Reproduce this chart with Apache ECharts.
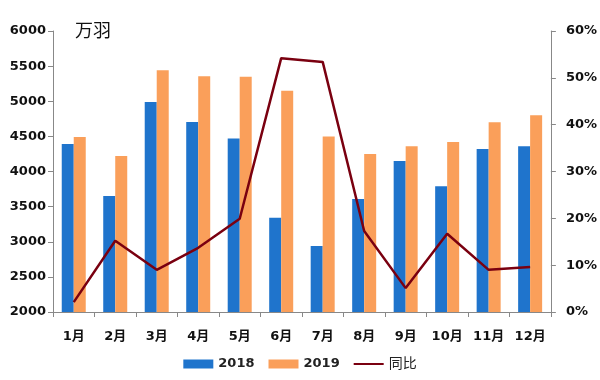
<!DOCTYPE html>
<html><head><meta charset="utf-8">
<script src="https://cdn.jsdelivr.net/npm/echarts@6/dist/echarts.min.js"></script>
<style>html,body{margin:0;padding:0;background:#fff}#c{width:600px;height:380px}</style>
</head><body><div id="c"></div>
<script>
const categories = ['1月','2月','3月','4月','5月','6月','7月','8月','9月','10月','11月','12月'];
const s2018 = [4390, 3650, 4990, 4705, 4470, 3340, 2940, 3610, 4150, 3790, 4320, 4360];
const s2019 = [4490, 4220, 5440, 5355, 5350, 5150, 4500, 4250, 4360, 4420, 4700, 4800];
const yoy = [2.1, 15.2, 9.0, 13.7, 19.9, 54.2, 53.4, 17.3, 5.1, 16.7, 9.0, 9.6];
const leftTicks = [2000, 6000, 500];
const rightTicks = [0, 60, 10];
const unitLabel = '万羽';

const font = "'DejaVu Sans','Noto Sans CJK SC',sans-serif";
const chart = echarts.init(document.getElementById('c'), null, {renderer:'canvas'});
const axisLine = {show:true, lineStyle:{color:'#888', width:1}};
const lbl = {color:'#111', fontSize:13, fontWeight:'bold', fontFamily:font};
chart.setOption({
  animation:false,
  backgroundColor:'#fff',
  textStyle:{fontFamily:font},
  graphic:[{type:'text', left:75, top:21, style:{text:unitLabel, font:"18px 'Noto Sans CJK SC'", fill:'#111'}}],
  grid:{left:53, right:48, top:31, bottom:68},
  legend:{bottom:4, left:'center', itemWidth:30, itemHeight:9, itemGap:14,
    textStyle:{fontFamily:font, fontSize:13, fontWeight:'bold', color:'#222'},
    data:[{name:'2018', icon:'rect'},{name:'2019', icon:'rect'},
          {name:'同比', icon:'path://M0,0L0.01,0M0,3.6L30,3.6L30,5.4L0,5.4ZM0,9L0.01,9', textStyle:{fontWeight:'normal', fontSize:14}}]},
  xAxis:{type:'category', data:categories, axisLine:axisLine,
    axisTick:{show:true, alignWithLabel:false, length:5, lineStyle:{color:'#888'}},
    axisLabel:Object.assign({margin:18}, lbl)},
  yAxis:[
    {type:'value', min:leftTicks[0], max:leftTicks[1], interval:leftTicks[2], axisLine:axisLine,
     axisTick:{show:true, length:5, lineStyle:{color:'#888'}}, splitLine:{show:false},
     axisLabel:Object.assign({margin:7, formatter:function(v){return String(v);}}, lbl)},
    {type:'value', min:rightTicks[0], max:rightTicks[1], interval:rightTicks[2], axisLine:axisLine,
     axisTick:{show:true, length:5, lineStyle:{color:'#888'}}, splitLine:{show:false},
     axisLabel:Object.assign({margin:15, formatter:'{value}%'}, lbl)}
  ],
  series:[
    {name:'2018', type:'bar', data:s2018, barWidth:12, barGap:'0%', itemStyle:{color:'#1f74cc'}},
    {name:'2019', type:'bar', data:s2019, barWidth:12, barGap:'0%', itemStyle:{color:'#fa9f5a'}},
    {name:'同比', type:'line', yAxisIndex:1, data:yoy, symbol:'none', lineStyle:{color:'#7a0010', width:2.5}, itemStyle:{color:'#7a0010'}}
  ]
});
</script></body></html>
